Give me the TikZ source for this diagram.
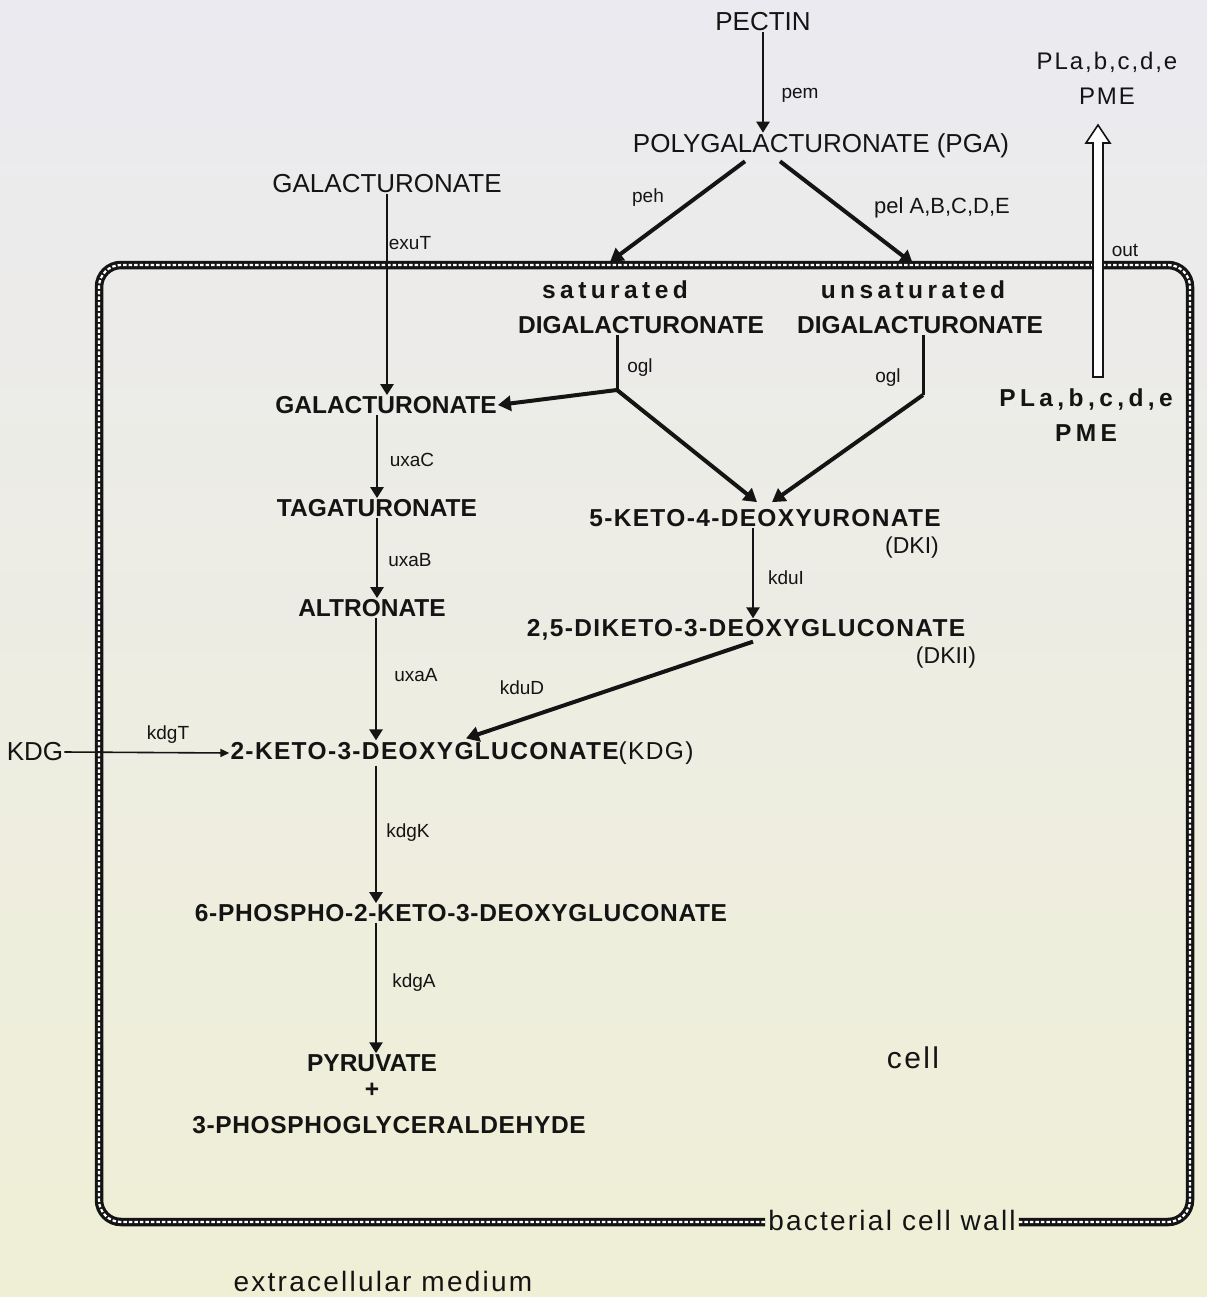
\documentclass[tikz,border=0pt]{standalone}
\usepackage{fontspec}
\setmainfont{Liberation Sans}
\newfontfamily\widefont[LetterSpace=18]{Liberation Sans}
\newfontfamily\spfont[LetterSpace=8]{Liberation Sans}
\newfontfamily\medfont[LetterSpace=5.5]{Liberation Sans}
\newfontfamily\lowfont[LetterSpace=2.7]{Liberation Sans}
\usetikzlibrary{arrows.meta}
\definecolor{bgtop}{RGB}{235,234,240}
\definecolor{bgbot}{RGB}{239,239,214}
\definecolor{ink}{RGB}{20,20,20}
\begin{document}
\begin{tikzpicture}[x=1pt,y=-1pt,
  ext/.style={font=\fontsize{26}{30}\selectfont, inner sep=1pt, text=ink},
  extsp/.style={font=\spfont\fontsize{28}{32}\selectfont, inner sep=1pt, text=ink},
  met/.style={font=\fontsize{24.5}{28}\selectfont\bfseries, inner sep=1pt, text=ink},
  metm/.style={font=\medfont\fontsize{24.5}{28}\selectfont\bfseries, inner sep=1pt, text=ink},
  metl/.style={font=\lowfont\fontsize{24.5}{28}\selectfont\bfseries, inner sep=1pt, text=ink},
  metw/.style={font=\widefont\fontsize{24.5}{28}\selectfont\bfseries, inner sep=1pt, text=ink},
  enz/.style={font=\fontsize{19}{21}\selectfont, inner sep=1pt, text=ink},
  dk/.style={font=\fontsize{23}{26}\selectfont, inner sep=1pt, text=ink},
  flow/.style={draw=ink, line width=2.6pt, -{Triangle[length=11pt,width=13pt]}},
  bigflow/.style={draw=ink, line width=4pt, -{Triangle[length=13pt,width=15pt]}},
  thinflow/.style={draw=ink, line width=1.6pt, -{Triangle[length=9pt,width=8pt]}},
  plainline/.style={draw=ink, line width=3pt},
  wallline/.style={draw=white, line width=2.2pt, dash pattern=on 3.5pt off 2pt,
     preaction={draw=ink, line width=8.5pt, solid}},
  hollow/.style={draw=ink, line width=1.6pt, fill=white, line join=miter}
]
\useasboundingbox (0,0) rectangle (1207,1297);
\fill[top color=bgtop, bottom color=bgbot] (0,0) rectangle (1207,1297);

% ---------- nodes outside the cell ----------
\node[ext] (pectin) at (763,22) {PECTIN};
\node[ext] (pga) at (821,146) {POLYGALACTURONATE (PGA)};
\node[ext] (galout) at (387,184) {GALACTURONATE};
\node[ext] (kdgout) at (35,752) {KDG};
\node[font=\spfont\fontsize{24}{28}\selectfont, text=ink, inner sep=1pt] (plout) at (1107,62) {PLa,b,c,d,e};
\node[font=\spfont\fontsize{24}{28}\selectfont, text=ink, inner sep=1pt] (pmeout) at (1107,96) {PME};
\node[extsp] (extra) at (383,1281) {extracellular medium};
\node[extsp] (wlbl) at (892,1220) {bacterial cell wall};
\node[font=\spfont\fontsize{30}{34}\selectfont, text=ink, inner sep=1pt] (cell) at (913,1058) {cell};

% ---------- nodes inside the cell ----------
\node[metw] (sat) at (615,290) {saturated};
\node[met] (satdg) at (641,325) {DIGALACTURONATE};
\node[metw] (unsat) at (913,290) {unsaturated};
\node[met] (unsatdg) at (920,325) {DIGALACTURONATE};
\node[met] (galin) at (386,405) {GALACTURONATE};
\node[met] (tag) at (377,508) {TAGATURONATE};
\node[met] (alt) at (372,608) {ALTRONATE};
\node[metm] (kdg) at (462,753) {2-KETO-3-DEOXYGLUCONATE{\mdseries(KDG)}};
\node[metl] (phospho) at (461,913) {6-PHOSPHO-2-KETO-3-DEOXYGLUCONATE};
\node[met] (pyr) at (372,1063) {PYRUVATE};
\node[met] (plus) at (372,1090) {+};
\node[metl] (pgald) at (389,1125) {3-PHOSPHOGLYCERALDEHYDE};
\node[metm] (dki) at (765,518) {5-KETO-4-DEOXYURONATE};
\node[dk] (dkilbl) at (912,548) {(DKI)};
\node[metm] (dkii) at (746,630) {2,5-DIKETO-3-DEOXYGLUCONATE};
\node[dk] (dkiilbl) at (946,658) {(DKII)};
\node[metw] (plin) at (1086,400) {PLa,b,c,d,e};
\node[metw] (pmein) at (1086,433) {PME};

% ---------- enzyme labels ----------
\node[enz] at (800,95) {pem};
\node[enz] at (648,198) {peh};
\node[font=\fontsize{22}{24}\selectfont, text=ink, inner sep=1pt] at (942,208) {pel A,B,C,D,E};
\node[enz] at (1125,250) {out};
\node[enz] at (410,243) {exuT};
\node[enz] at (640,368) {ogl};
\node[enz] at (888,378) {ogl};
\node[enz] at (412,460) {uxaC};
\node[enz] at (410,560) {uxaB};
\node[enz] at (416,675) {uxaA};
\node[enz] at (786,578) {kduI};
\node[enz] at (522,688) {kduD};
\node[enz] at (168,735) {kdgT};
\node[enz] at (408,833) {kdgK};
\node[enz] at (414,983) {kdgA};

% ---------- cell wall ----------
\coordinate (cTL) at (99,265);
\coordinate (cTR) at (1190,265);
\coordinate (cBR) at (1190,1222);
\coordinate (cBL) at (99,1222);
\path[wallline, rounded corners=22pt]
  ([xshift=2pt]wlbl.east |- cBR) -- (cBR) -- (cTR) -- (cTL) -- (cBL) -- ([xshift=-2pt]wlbl.west |- cBL);

% ---------- helper coordinates ----------
\coordinate (spine) at (376,0);
\coordinate (j1) at (617,390);
\coordinate (j2) at (923,395);
\coordinate (kx) at (753,0);
\coordinate (ob) at (1098,377);
\coordinate (ot) at (1098,125);

% ---------- connectors ----------
\draw[flow] (pectin.south) -- (pectin.south |- pga.north);
\draw[bigflow] ([xshift=-76pt,yshift=-2pt]pga.south) -- ([xshift=-5pt,yshift=18pt]sat.north);
\draw[bigflow] ([xshift=-41pt,yshift=-2pt]pga.south) -- ([yshift=16pt]unsat.north);
\draw[flow] (galout.south) -- (galout.south |- galin.north);
\draw[flow] (tag.north |- galin.south) -- (tag.north);
\draw[flow] (tag.south) -- (tag.south |- alt.north);
\draw[flow] (alt.south -| spine) -- (kdg.north -| spine);
\draw[flow] (kdg.south -| spine) -- (phospho.north -| spine);
\draw[flow] (phospho.south -| spine) -- (pyr.north -| spine);
\draw[plainline] (satdg.south -| j1) -- (j1);
\draw[bigflow] (j1) -- (galin.east);
\draw[bigflow] (j1) -- ([xshift=-8pt,yshift=6pt]dki.north);
\draw[plainline] (unsatdg.south -| j2) -- (j2);
\draw[bigflow] (j2) -- ([xshift=7pt,yshift=6pt]dki.north);
\draw[flow] (dki.south -| kx) -- (dkii.north -| kx);
\draw[bigflow] (dkii.south -| kx) -- ([xshift=4pt,yshift=2pt]kdg.north);
\draw[thinflow] (kdgout.east) -- (kdg.west);

% hollow "out" arrow
\draw[hollow] ([xshift=-5pt]ob) -- ([xshift=-5pt,yshift=-18pt]ot) -- ([xshift=-12pt,yshift=-18pt]ot)
  -- (ot) -- ([xshift=12pt,yshift=-18pt]ot) -- ([xshift=5pt,yshift=-18pt]ot) -- ([xshift=5pt]ob) -- cycle;
\end{tikzpicture}
\end{document}
